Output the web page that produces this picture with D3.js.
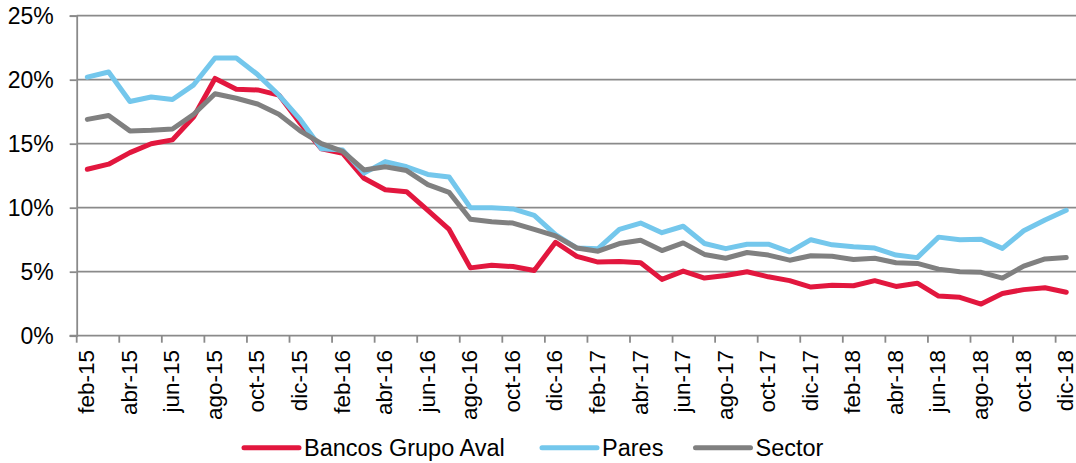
<!DOCTYPE html>
<html><head><meta charset="utf-8">
<script src="https://cdn.jsdelivr.net/npm/d3@7/dist/d3.min.js"></script>
<style>body{margin:0;background:#fff}svg{display:block}text{font-family:"Liberation Sans",Arial,sans-serif;fill:#000}</style>
</head><body><svg id="c" width="1076" height="463"></svg>
<script>
const categoryLabels = ["feb-15","mar-15","abr-15","may-15","jun-15","jul-15","ago-15","sep-15","oct-15","nov-15","dic-15","ene-16",
"feb-16","mar-16","abr-16","may-16","jun-16","jul-16","ago-16","sep-16","oct-16","nov-16","dic-16","ene-17",
"feb-17","mar-17","abr-17","may-17","jun-17","jul-17","ago-17","sep-17","oct-17","nov-17","dic-17","ene-18",
"feb-18","mar-18","abr-18","may-18","jun-18","jul-18","ago-18","sep-18","oct-18","nov-18","dic-18"];
const grupoAval = [13.0,13.4,14.3,15.0,15.3,17.1,20.1,19.25,19.2,18.8,16.6,14.6,14.25,12.3,11.4,11.25,9.8,8.3,5.3,5.5,5.4,5.1,7.3,6.2,5.75,5.8,5.7,4.4,5.05,4.5,4.7,5.0,4.6,4.3,3.8,3.95,3.9,4.3,3.85,4.1,3.1,3.0,2.47,3.3,3.6,3.75,3.4];
const pares = [20.2,20.6,18.3,18.65,18.45,19.6,21.7,21.7,20.4,18.8,16.9,14.6,14.5,12.7,13.6,13.2,12.6,12.4,10.0,10.0,9.9,9.4,7.9,6.85,6.8,8.3,8.8,8.05,8.55,7.2,6.8,7.15,7.15,6.55,7.5,7.1,6.95,6.85,6.3,6.1,7.7,7.5,7.53,6.82,8.2,9.04,9.8];
const sector = [16.9,17.2,16.0,16.05,16.15,17.3,18.9,18.55,18.1,17.3,16.0,15.0,14.4,12.95,13.2,12.9,11.8,11.2,9.1,8.9,8.8,8.3,7.8,6.85,6.6,7.2,7.45,6.65,7.25,6.35,6.05,6.5,6.3,5.9,6.25,6.2,5.95,6.05,5.7,5.65,5.2,5.0,4.95,4.5,5.44,6.0,6.1];
const yTicks = [0,5,10,15,20,25];
const seriesNames = ["Bancos Grupo Aval","Pares","Sector"];
const seriesColors = ["#E2173E","#74C7EC","#808080"];

const svg = d3.select("#c");
const L = 76.7, R = 1076.9, T = 15.7, B = 335.7;
const x = d3.scaleBand().domain(categoryLabels).range([L, R]).padding(0);
const y = d3.scaleLinear().domain([0, 25]).range([B, T]);
const grid = "#8a8a8a";
const fs = 23;

// gridlines
svg.append("g").selectAll("line").data(yTicks.filter(d => d > 0)).join("line")
  .attr("x1", L).attr("x2", R).attr("y1", d => y(d)).attr("y2", d => y(d))
  .attr("stroke", grid).attr("stroke-width", 1.8);

// y axis
const ya = svg.append("g").attr("transform", `translate(${L},0)`)
  .call(d3.axisLeft(y).tickValues(yTicks).tickFormat(d => d + "%").tickSize(7).tickPadding(16));
ya.select(".domain").attr("stroke", grid).attr("stroke-width", 1.8);
ya.selectAll(".tick line").attr("stroke", grid).attr("stroke-width", 1.8);
ya.selectAll(".tick text").attr("font-size", fs).attr("font-family", "Liberation Sans, Arial, sans-serif").attr("fill", "#000");

// x axis line
svg.append("line").attr("x1", L - 7).attr("x2", R).attr("y1", B).attr("y2", B)
  .attr("stroke", grid).attr("stroke-width", 1.8);
// x ticks at band starts of every other category
svg.append("g").selectAll("line").data(categoryLabels.filter((d, i) => i % 2 === 0)).join("line")
  .attr("x1", d => x(d)).attr("x2", d => x(d)).attr("y1", B).attr("y2", B + 7)
  .attr("stroke", grid).attr("stroke-width", 1.8);
// x labels
svg.append("g").selectAll("text").data(categoryLabels.filter((d, i) => i % 2 === 0)).join("text")
  .attr("transform", d => `translate(${x(d) + x.bandwidth() / 2 - 1},350) rotate(-90)`)
  .attr("text-anchor", "end").attr("dy", "0.35em").attr("font-size", 22.5).text(d => d);

// lines
const data = [grupoAval, pares, sector];
const line = d3.line().x((d, i) => x(categoryLabels[i]) + x.bandwidth() / 2).y(d => y(d)).curve(d3.curveLinear);
data.forEach((s, k) => {
  svg.append("path").datum(s).attr("d", line).attr("fill", "none")
    .attr("stroke", seriesColors[k]).attr("stroke-width", 5).attr("stroke-linejoin", "round").attr("stroke-linecap", "round");
});

// legend
const legX = [244, 542, 695.5];
const legY = 447.7;
seriesNames.forEach((n, k) => {
  svg.append("line").attr("x1", legX[k]).attr("x2", legX[k] + 55).attr("y1", legY).attr("y2", legY)
    .attr("stroke", seriesColors[k]).attr("stroke-width", 5).attr("stroke-linecap", "round");
  svg.append("text").attr("x", legX[k] + 60).attr("y", legY).attr("dy", "0.35em").attr("font-size", 23.5).text(n);
});
</script></body></html>
